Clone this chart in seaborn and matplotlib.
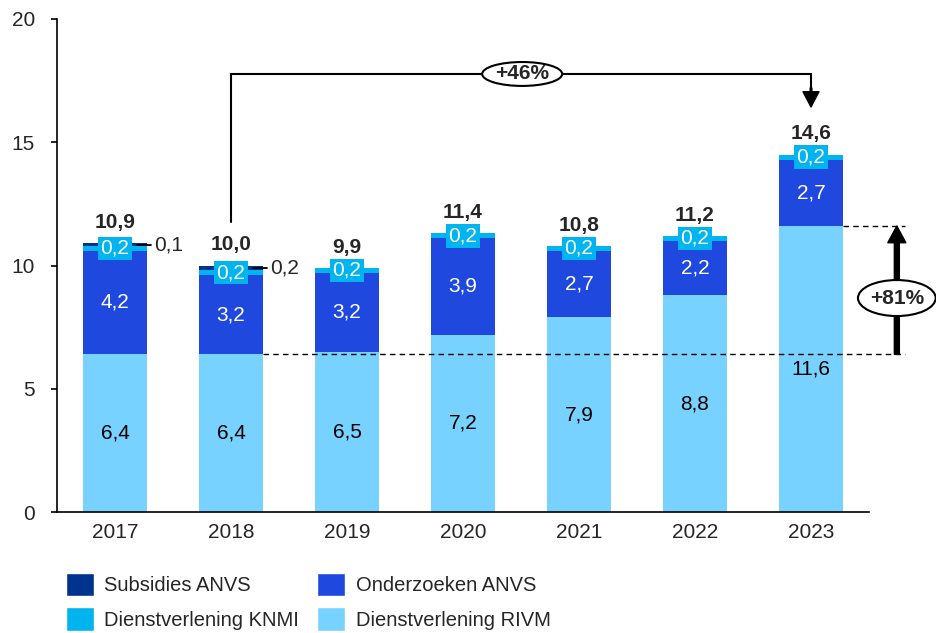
import matplotlib
matplotlib.use("Agg")
import matplotlib.pyplot as plt
from matplotlib.patches import Ellipse, Patch
import numpy as np
import seaborn as sns

years = ["2017", "2018", "2019", "2020", "2021", "2022", "2023"]
rivm = [6.4, 6.4, 6.5, 7.2, 7.9, 8.8, 11.6]
onderzoeken = [4.2, 3.2, 3.2, 3.9, 2.7, 2.2, 2.7]
knmi = [0.2, 0.2, 0.2, 0.2, 0.2, 0.2, 0.2]
subsidies = [0.1, 0.2, 0.0, 0.0, 0.0, 0.0, 0.0]
totals = [10.9, 10.0, 9.9, 11.4, 10.8, 11.2, 14.6]

c_subs = "#00338D"
c_ond = "#1F48DF"
c_knmi = "#00B4F0"
c_rivm = "#78D2FF"

FS = 15

sns.set_style("white")
plt.rcParams["font.family"] = ["Liberation Sans", "DejaVu Sans"]
plt.rcParams["font.size"] = FS

fig = plt.figure(figsize=(9.36, 6.33), dpi=100)
ax = fig.add_axes([57 / 936, 121 / 633, 812 / 936, 493 / 633])

r = np.array(rivm)
o = np.array(onderzoeken)
k = np.array(knmi)
s = np.array(subsidies)
layers = [
    (r + o + k + s, c_subs),
    (r + o + k, c_knmi),
    (r + o, c_ond),
    (r, c_rivm),
]
w = 0.56
for vals, col in layers:
    sns.barplot(x=years, y=vals, color=col, width=w, saturation=1,
                linewidth=0, ax=ax, zorder=2)

ax.set_xlim(-0.5, 6.5)
ax.set_ylim(0, 20)
ax.set_yticks([0, 5, 10, 15, 20])
ax.set_xlabel("")
ax.set_ylabel("")
sns.despine(ax=ax)
for sp in ["left", "bottom"]:
    ax.spines[sp].set_color("black")
    ax.spines[sp].set_linewidth(1.2)
ax.tick_params(axis="y", length=4, width=1.2, color="black", pad=12,
               labelsize=FS, left=True)
ax.tick_params(axis="x", length=0, pad=8, labelsize=FS)


def fmt(v):
    return f"{v:.1f}".replace(".", ",")


for i in range(len(years)):
    ax.text(i, r[i] / 2, fmt(rivm[i]), ha="center", va="center",
            color="black", fontsize=FS, zorder=5)
    ax.text(i, r[i] + o[i] / 2, fmt(onderzoeken[i]), ha="center",
            va="center", color="white", fontsize=FS, zorder=5)
    ax.text(i, r[i] + o[i] + k[i] / 2, fmt(knmi[i]), ha="center",
            va="center", color="white", fontsize=FS, zorder=6,
            bbox=dict(boxstyle="square,pad=0.1", fc=c_knmi, ec="none"))
    if s[i] > 0:
        ys = r[i] + o[i] + k[i] + s[i] / 2
        ax.plot([i + 0.19, i + 0.31], [ys, ys], color="black", lw=1.3,
                zorder=7)
        ax.text(i + 0.335, ys, fmt(subsidies[i]), ha="left", va="center",
                fontsize=FS, zorder=7)
    top = r[i] + o[i] + k[i] + s[i]
    ax.annotate(fmt(totals[i]), (i, top), xytext=(0, 11),
                textcoords="offset points", ha="center", va="baseline",
                fontsize=FS, fontweight="bold", zorder=7)

# dashed reference lines and +81% arrow
ax.plot([1 + w / 2, 6.81], [rivm[1], rivm[1]], ls=(0, (4, 3)), color="black",
        lw=1, clip_on=False, zorder=4)
ax.plot([6 + w / 2, 6.81], [rivm[6], rivm[6]], ls=(0, (4, 3)), color="black",
        lw=1, clip_on=False, zorder=4)
ax.annotate("", xy=(6.74, rivm[6]), xytext=(6.74, rivm[1]),
            arrowprops=dict(width=3.6, headwidth=13, headlength=12,
                            facecolor="black", edgecolor="black", shrink=0),
            annotation_clip=False, zorder=8)
ax.add_patch(Ellipse((6.74, 8.68), 0.67, 1.46, fc="white", ec="black",
                     lw=1.5, clip_on=False, zorder=9))
ax.text(6.74, 8.68, "+81%", ha="center", va="center", fontsize=FS,
        fontweight="bold", zorder=10, clip_on=False)

# +46% bracket
yb = 17.77
ax.plot([1, 1, 6, 6], [11.76, yb, yb, 16.9], color="black", lw=1.5,
        zorder=8, solid_joinstyle="miter")
ax.annotate("", xy=(6, 16.43), xytext=(6, 17.2),
            arrowprops=dict(width=1.2, headwidth=11.5, headlength=11,
                            facecolor="black", edgecolor="black", shrink=0),
            zorder=8)
ax.add_patch(Ellipse((3.51, yb), 0.69, 0.97, fc="white", ec="black",
                     lw=1.5, zorder=9))
ax.text(3.51, yb, "+46%", ha="center", va="center", fontsize=FS,
        fontweight="bold", zorder=10)

handles = [
    Patch(facecolor=c_subs, label="Subsidies ANVS"),
    Patch(facecolor=c_knmi, label="Dienstverlening KNMI"),
    Patch(facecolor=c_ond, label="Onderzoeken ANVS"),
    Patch(facecolor=c_rivm, label="Dienstverlening RIVM"),
]
fig.legend(handles=handles, ncol=2, loc="upper left",
           bbox_to_anchor=(66 / 936, 1 - 573 / 633), frameon=False,
           borderpad=0, borderaxespad=0, handlelength=1.4,
           handleheight=1.4, handletextpad=0.5, labelspacing=0.55,
           columnspacing=0.9, fontsize=14.5)

fig.savefig("out.png", dpi=100)
